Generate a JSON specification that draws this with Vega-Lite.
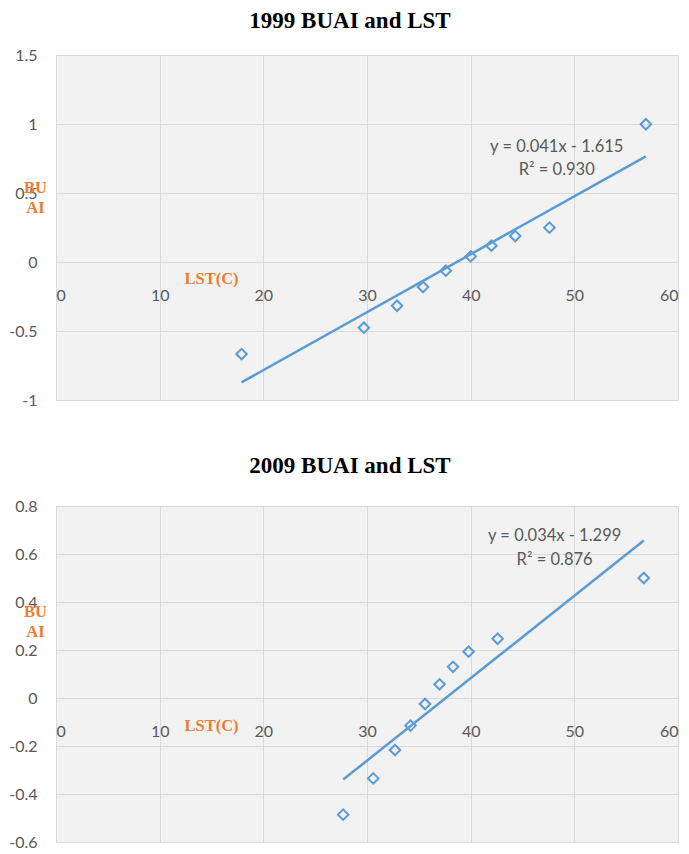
{
  "$schema": "https://vega.github.io/schema/vega-lite/v6.json",
  "background": "white",
  "padding": {"left": 5, "top": 9, "right": 5, "bottom": 5},
  "spacing": 45,
  "config": {
    "view": {"fill": "#f2f2f2", "stroke": "#dedede", "strokeWidth": 1},
    "title": {"font": "Liberation Serif", "fontSize": 23, "fontWeight": "bold", "color": "#000000", "anchor": "middle", "frame": "group", "dx": -17},
    "axis": {
      "gridColor": "#dadada", "gridWidth": 1, "domain": false, "ticks": false,
      "labelFont": "Lato", "labelFontSize": 16, "labelColor": "#595959",
      "titleFont": "Liberation Serif", "titleFontSize": 16.5, "titleFontWeight": "bold", "titleColor": "#ed7d31"
    }
  },
  "vconcat": [
    {
      "title": {"text": "1999 BUAI and LST", "offset": 14},
      "width": 622,
      "height": 345,
      "layer": [
        {
          "data": {"values": [
            {"lst": 17.9, "buai": -0.667},
            {"lst": 29.7, "buai": -0.476},
            {"lst": 32.9, "buai": -0.317},
            {"lst": 35.4, "buai": -0.181},
            {"lst": 37.6, "buai": -0.063},
            {"lst": 40.0, "buai": 0.041},
            {"lst": 42.0, "buai": 0.118},
            {"lst": 44.3, "buai": 0.188},
            {"lst": 47.6, "buai": 0.249},
            {"lst": 56.9, "buai": 0.998}
          ]},
          "mark": {"type": "point", "shape": "diamond", "size": 110, "filled": false, "stroke": "#5b9bd5", "strokeWidth": 2, "opacity": 1},
          "encoding": {
            "x": {"field": "lst", "type": "quantitative", "scale": {"domain": [0, 60], "nice": false}, "axis": {"values": [0, 10, 20, 30, 40, 50, 60], "title": "LST(C)", "titleX": 155, "titleY": -122, "titleAlign": "center", "titleBaseline": "middle", "labelPadding": -113, "labelBaseline": "top"}},
            "y": {"field": "buai", "type": "quantitative", "scale": {"domain": [-1, 1.5], "nice": false, "zero": false}, "axis": {"values": [-1, -0.5, 0, 0.5, 1, 1.5], "labelExpr": "replace(format(datum.value, '.1~f'), '\u2212', '-')", "labelPadding": 19, "minExtent": 50, "maxExtent": 50, "title": ["BU", "AI"], "titleAngle": 0, "titleX": -21, "titleY": 132, "titleAlign": "center", "titleBaseline": "middle", "titleLineHeight": 20}}
          }
        },
        {
          "data": {"values": [
            {"lst": 17.9, "buai": -0.872},
            {"lst": 56.9, "buai": 0.766}
          ]},
          "mark": {"type": "line", "color": "#5b9bd5", "strokeWidth": 2.5},
          "encoding": {
            "x": {"field": "lst", "type": "quantitative"},
            "y": {"field": "buai", "type": "quantitative"}
          }
        },
        {
          "data": {"values": [
            {"lst": 48.3, "buai": 0.836, "label": "y = 0.041x - 1.615"},
            {"lst": 48.3, "buai": 0.669, "label": "R\u00b2 = 0.930"}
          ]},
          "mark": {"type": "text", "font": "Lato", "fontSize": 16.5, "color": "#595959", "align": "center", "baseline": "middle"},
          "encoding": {
            "x": {"field": "lst", "type": "quantitative"},
            "y": {"field": "buai", "type": "quantitative"},
            "text": {"field": "label"}
          }
        }
      ]
    },
    {
      "title": {"text": "2009 BUAI and LST", "offset": 20},
      "width": 622,
      "height": 336,
      "layer": [
        {
          "data": {"values": [
            {"lst": 27.7, "buai": -0.486},
            {"lst": 30.6, "buai": -0.335},
            {"lst": 32.7, "buai": -0.217},
            {"lst": 34.2, "buai": -0.115},
            {"lst": 35.6, "buai": -0.025},
            {"lst": 37.0, "buai": 0.057},
            {"lst": 38.3, "buai": 0.130},
            {"lst": 39.8, "buai": 0.193},
            {"lst": 42.6, "buai": 0.247},
            {"lst": 56.7, "buai": 0.500}
          ]},
          "mark": {"type": "point", "shape": "diamond", "size": 110, "filled": false, "stroke": "#5b9bd5", "strokeWidth": 2, "opacity": 1},
          "encoding": {
            "x": {"field": "lst", "type": "quantitative", "scale": {"domain": [0, 60], "nice": false}, "axis": {"values": [0, 10, 20, 30, 40, 50, 60], "title": "LST(C)", "titleX": 155, "titleY": -117, "titleAlign": "center", "titleBaseline": "middle", "labelPadding": -119, "labelBaseline": "top"}},
            "y": {"field": "buai", "type": "quantitative", "scale": {"domain": [-0.6, 0.8], "nice": false, "zero": false}, "axis": {"values": [-0.6, -0.4, -0.2, 0, 0.2, 0.4, 0.6, 0.8], "labelExpr": "replace(format(datum.value, '.1~f'), '\u2212', '-')", "labelPadding": 19, "minExtent": 50, "maxExtent": 50, "title": ["BU", "AI"], "titleAngle": 0, "titleX": -21, "titleY": 105, "titleAlign": "center", "titleBaseline": "middle", "titleLineHeight": 20}}
          }
        },
        {
          "data": {"values": [
            {"lst": 27.7, "buai": -0.340},
            {"lst": 56.7, "buai": 0.656}
          ]},
          "mark": {"type": "line", "color": "#5b9bd5", "strokeWidth": 2.5},
          "encoding": {
            "x": {"field": "lst", "type": "quantitative"},
            "y": {"field": "buai", "type": "quantitative"}
          }
        },
        {
          "data": {"values": [
            {"lst": 48.1, "buai": 0.675, "label": "y = 0.034x - 1.299"},
            {"lst": 48.1, "buai": 0.575, "label": "R\u00b2 = 0.876"}
          ]},
          "mark": {"type": "text", "font": "Lato", "fontSize": 16.5, "color": "#595959", "align": "center", "baseline": "middle"},
          "encoding": {
            "x": {"field": "lst", "type": "quantitative"},
            "y": {"field": "buai", "type": "quantitative"},
            "text": {"field": "label"}
          }
        }
      ]
    }
  ]
}
